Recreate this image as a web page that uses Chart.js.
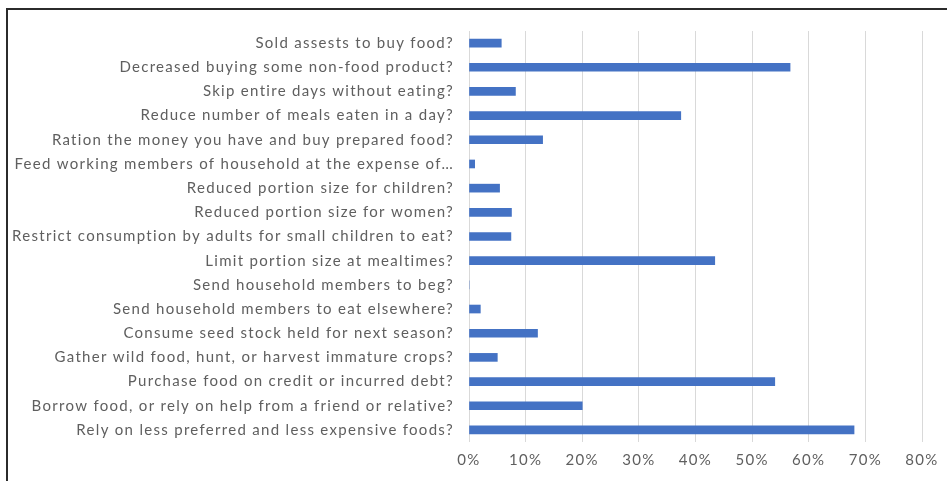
<!DOCTYPE html>
<html>
<head>
<meta charset="utf-8">
<script src="https://cdn.jsdelivr.net/npm/chart.js@4/dist/chart.umd.min.js"></script>
<style>
  html, body { margin: 0; padding: 0; background: #fff; overflow: hidden; }
  #wrap { position: relative; width: 947px; height: 481px; }
  #frame {
    position: absolute; left: 6px; top: 8px; right: -10px; bottom: -10px;
    border-top: 2px solid #2b2b2b; border-left: 2px solid #2b2b2b;
  }
  #chart { position: absolute; left: 0; top: 0; }
</style>
</head>
<body>
<div id="wrap">
  <div id="frame"></div>
  <canvas id="chart" width="947" height="481"></canvas>
</div>
<script>
const strategies = [
  'Sold assests to buy food?',
  'Decreased buying some non-food product?',
  'Skip entire days without eating?',
  'Reduce number of meals eaten in a day?',
  'Ration the money you have and buy prepared food?',
  'Feed working members of household at the expense of\u2026',
  'Reduced portion size for children?',
  'Reduced portion size for women?',
  'Restrict consumption by adults for small children to eat?',
  'Limit portion size at mealtimes?',
  'Send household members to beg?',
  'Send household members to eat elsewhere?',
  'Consume seed stock held for next season?',
  'Gather wild food, hunt, or harvest immature crops?',
  'Purchase food on credit or incurred debt?',
  'Borrow food, or rely on help from a friend or relative?',
  'Rely on less preferred and less expensive foods?'
]

// share of households (%)
const shares = [5.7, 56.7, 8.2, 37.4, 13.0, 1.0, 5.4, 7.5, 7.4, 43.4, 0, 2.0, 12.1, 5.0, 54.0, 20.0, 68.0]

const xTicks = [0, 10, 20, 30, 40, 50, 60, 70, 80]

const labelFont = { family: 'Lato', size: 15 }
const textColor = '#5f5f5f'

// slightly wider text spacing for the axis labels
const spacing = {
  id: 'spacing',
  beforeDraw: chart => { chart.ctx.letterSpacing = '1.3px' },
}

new Chart(document.getElementById('chart'), {
  type: 'bar',
  data: {
    labels: strategies,
    datasets: [{
      data: shares,
      backgroundColor: '#4472c4',
      barThickness: 8,
    }],
  },
  options: {
    indexAxis: 'y',
    responsive: false,
    animation: false,
    layout: { padding: { top: 31, right: 25, left: 0, bottom: 0 } },
    plugins: { legend: { display: false }, tooltip: { enabled: false } },
    scales: {
      x: {
        min: 0,
        max: 80,
        afterBuildTicks: s => { s.ticks = xTicks.map(v => ({ value: v })) },
        afterFit: s => { s.height = 39 },
        ticks: {
          color: textColor,
          font: labelFont,
          padding: 9,
          maxRotation: 0,
          callback: v => v + '%',
        },
        grid: { color: '#d9d9d9', lineWidth: 1, drawTicks: false },
        border: { display: false },
      },
      y: {
        afterFit: s => { s.width = 469 },
        ticks: { color: textColor, font: labelFont, padding: 15, autoSkip: false },
        grid: { display: false, drawTicks: false },
        border: { display: false },
      },
    },
  },
  plugins: [spacing],
})
</script>
</body>
</html>
